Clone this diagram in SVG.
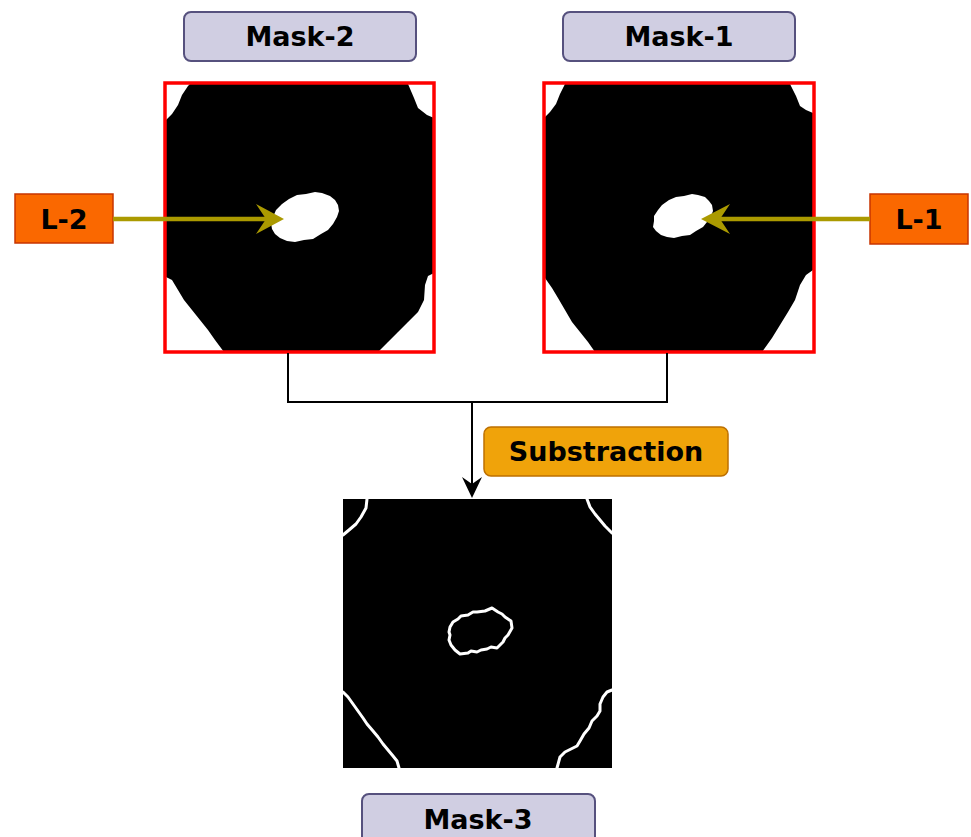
<svg xmlns="http://www.w3.org/2000/svg" width="971" height="837" viewBox="0 0 971 837">
  <style>
    .lbl { fill: #d0cee2; stroke: #56517e; stroke-width: 2; }
    .tag { fill: #fa6800; stroke: #c73500; stroke-width: 1.5; }
    .op { fill: #f0a30a; stroke: #bd7000; stroke-width: 1.5; }
    .frame { fill: none; stroke: #ff0000; stroke-width: 3.5; }
    .txt { font-family: "DejaVu Sans", Verdana, sans-serif; font-weight: bold; font-size: 27px; fill: #000; text-anchor: middle; }
    .edge { fill: none; stroke: #ffffff; stroke-width: 3; stroke-linejoin: round; stroke-linecap: round; }
    .olive { stroke: #ab9a00; stroke-width: 4.5; fill: none; }
    .conn { stroke: #000; stroke-width: 2; fill: none; }
  </style>

  <!-- Mask-2 panel -->
  <g id="mask2-label">
    <rect class="lbl" x="184" y="12" width="232" height="49" rx="7"/>
    <text class="txt" x="300" y="46">Mask-2</text>
  </g>
  <g id="mask2">
    <rect x="164" y="82" width="271" height="271" fill="#fff"/>
    <polygon fill="#000" points="190,84 408,84 414,98 418,108 427,115 434,118 434,273 428,276 425,285 424,300 418,312 408,322 398,332 388,342 378,352 224,352 215,340 208,330 200,320 192,310 184,300 178,290 172,280 166,277 166,120 172,114 178,105 182,95 188,86"/>
    <polygon fill="#fff" points="338,205 339,211 337,217 333,224 328,230 321,234 313,239 304,240 295,242 287,241 280,238 275,234 272,229 271,223 273,217 276,210 282,204 289,199 297,195 306,194 315,192 322,193 330,196 335,200"/>
    <rect class="frame" x="165" y="83" width="269" height="269"/>
  </g>

  <!-- Mask-1 panel -->
  <g id="mask1-label">
    <rect class="lbl" x="563" y="12" width="232" height="49" rx="7"/>
    <text class="txt" x="679" y="46">Mask-1</text>
  </g>
  <g id="mask1">
    <rect x="543" y="82" width="272" height="271" fill="#fff"/>
    <polygon fill="#000" points="565,84 790,84 796,96 800,106 806,110 813,113 813,270 806,275 800,285 795,300 788,312 780,325 772,338 762,352 595,352 588,342 580,332 572,322 565,310 558,298 552,288 545,278 545,117 550,112 556,104 560,94"/>
    <polygon fill="#fff" points="712,205 713,211 711,216 707,222 703,227 696,231 690,235 682,236 674,238 667,237 661,235 656,231 653,227 654,221 654,216 658,210 662,205 669,200 676,197 684,196 692,194 698,195 705,197 709,201"/>
    <rect class="frame" x="544" y="83" width="270" height="269"/>
  </g>

  <!-- Lesion markers -->
  <g id="L2">
    <rect class="tag" x="15" y="194" width="98" height="49"/>
    <text class="txt" x="64" y="229">L-2</text>
  </g>
  <g id="L1">
    <rect class="tag" x="870" y="194" width="98" height="50"/>
    <text class="txt" x="919" y="229">L-1</text>
  </g>

  <!-- Subtraction operator -->
  <g id="substraction">
    <rect class="op" x="484" y="427" width="244" height="49" rx="7"/>
    <text class="txt" x="606" y="461">Substraction</text>
  </g>

  <!-- Mask-3 result -->
  <g id="mask3">
    <rect x="343" y="499" width="269" height="269" fill="#000"/>
    <polyline class="edge" points="367,499 366,508 361,517 356,524 349,530 343,535"/>
    <polyline class="edge" points="587,499 590,507 595,514 600,520 605,526 609,530 612,533"/>
    <polyline class="edge" points="343,692 348,697 353,704 358,711 363,718 367,724 373,731 378,737 383,744 388,750 393,756 397,761 399,768"/>
    <polyline class="edge" points="612,690 607,692 603,697 600,704 600,711 597,716 592,721 589,728 584,734 580,741 577,746 571,749 565,752 560,757 557,768"/>
    <polygon class="edge" points="450,627 453,622 458,619 461,616 468,615 473,612 477,612 485,611 492,608 498,612 502,614 505,617 511,621 512,628 508,635 505,638 503,642 497,648 491,647 487,649 481,650 477,652 471,651 468,653 460,654 455,650 451,645 449,640 450,635 449,632"/>
  </g>
  <g id="mask3-label">
    <rect class="lbl" x="362" y="794" width="233" height="50" rx="7"/>
    <text class="txt" x="478" y="829">Mask-3</text>
  </g>

  <!-- Connectors -->
  <g id="connectors">
    <line class="olive" x1="113" y1="219" x2="268" y2="219"/>
    <polygon fill="#ab9a00" points="284,219 256,204 266,219 256,234"/>
    <line class="olive" x1="870" y1="219" x2="717" y2="219"/>
    <polygon fill="#ab9a00" points="701,219 730,204 720,219 730,234"/>
    <polyline class="conn" points="288,353 288,402 667,402 667,353"/>
    <line class="conn" x1="472" y1="402" x2="472" y2="486"/>
    <polygon fill="#000" points="472,498 462,477 472,484 482,477"/>
  </g>
</svg>
